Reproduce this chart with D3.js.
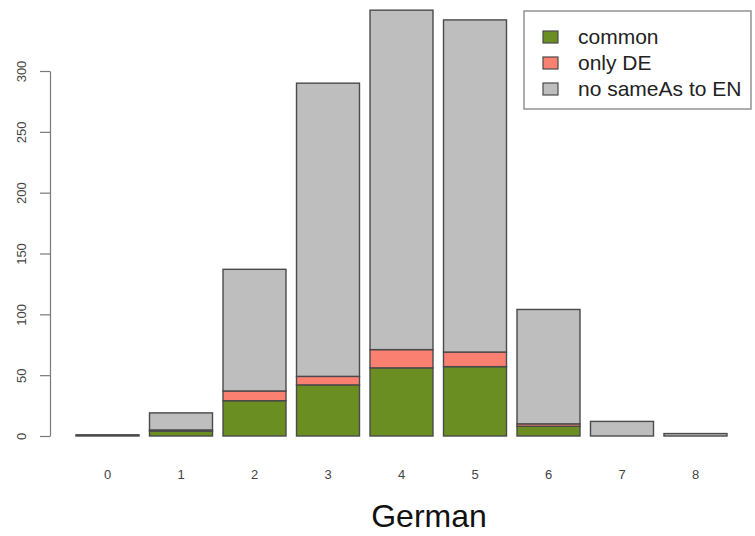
<!DOCTYPE html>
<html>
<head>
<meta charset="utf-8">
<script src="https://cdn.jsdelivr.net/npm/d3@7"></script>
<style>
  html, body { margin: 0; padding: 0; background: #fff; }
  svg { display: block; font-family: "Liberation Sans", Arial, sans-serif; }
</style>
</head>
<body>
<svg id="chart" width="755" height="536"></svg>
<script>
// Number of sameAs links per German entity, split by category
const categories = ["0", "1", "2", "3", "4", "5", "6", "7", "8"];
const common     = [1, 4, 29, 42, 56, 57, 8, 0, 0];
const onlyDE     = [0, 1, 8, 7, 15, 12, 2, 0, 0];
const noSameAs   = [0, 14, 100, 241, 279, 273, 94, 12, 2];
const seriesNames  = ["common", "only DE", "no sameAs to EN"];
const seriesColors = ["#6b8e23", "#fa8072", "#bebebe"];
const yTicks = [0, 50, 100, 150, 200, 250, 300];
const xTitle = "German";

const svg = d3.select("#chart");

const x = d3.scaleBand()
  .domain(categories)
  .range([70.75, 732.25])
  .paddingInner(0.143)
  .paddingOuter(0.0715);

const y = d3.scaleLinear().domain([0, 300]).range([436, 71]);

// stacked rows built from the series arrays
const rows = categories.map((c, i) => ({
  cat: c,
  common: common[i],
  "only DE": onlyDE[i],
  "no sameAs to EN": noSameAs[i]
}));
const stack = d3.stack().keys(seriesNames)(rows);

svg.append("g").selectAll("g")
  .data(stack)
  .join("g")
  .attr("fill", (d, i) => seriesColors[i])
  .selectAll("rect")
  .data(d => d.filter(s => s[1] - s[0] > 0))
  .join("rect")
  .attr("x", d => x(d.data.cat))
  .attr("width", x.bandwidth())
  .attr("y", d => y(d[1]))
  .attr("height", d => y(d[0]) - y(d[1]))
  .attr("stroke", "#4a4a4a")
  .attr("stroke-width", 1.4);

// y axis, R style: vertical labels, line spanning the tick range
const yAxis = svg.append("g")
  .attr("transform", "translate(50,0)")
  .call(d3.axisLeft(y).tickValues(yTicks).tickSize(10).tickPadding(0).tickSizeOuter(0));
yAxis.select(".domain").attr("stroke", "#7a7a7a").attr("stroke-width", 1.2);
yAxis.selectAll(".tick line").attr("stroke", "#7a7a7a").attr("stroke-width", 1.2);
yAxis.selectAll(".tick text")
  .attr("x", 0).attr("y", 0).attr("dy", 0)
  .attr("text-anchor", "middle")
  .attr("transform", "translate(-24,0) rotate(-90)")
  .attr("fill", "#444")
  .style("font-size", "13px")
  .style("font-family", "'Liberation Sans', Arial, sans-serif");

// x category labels
svg.append("g").selectAll("text")
  .data(categories)
  .join("text")
  .attr("x", d => x(d) + x.bandwidth() / 2)
  .attr("y", 479)
  .attr("text-anchor", "middle")
  .attr("fill", "#444")
  .style("font-size", "13px")
  .text(d => d);

// x title
svg.append("text")
  .attr("x", 429)
  .attr("y", 527)
  .attr("text-anchor", "middle")
  .attr("fill", "#111")
  .style("font-size", "32px")
  .text(xTitle);

// legend
const legend = svg.append("g");
legend.append("rect")
  .attr("x", 524).attr("y", 11)
  .attr("width", 227).attr("height", 98)
  .attr("fill", "#fff")
  .attr("stroke", "#8a8a8a")
  .attr("stroke-width", 1.4);
const items = legend.selectAll("g.item")
  .data(seriesNames)
  .join("g")
  .attr("class", "item")
  .attr("transform", (d, i) => `translate(0,${37 + i * 26})`);
items.append("rect")
  .attr("x", 543).attr("y", -6)
  .attr("width", 15).attr("height", 12)
  .attr("fill", (d, i) => seriesColors[i])
  .attr("stroke", "#4a4a4a")
  .attr("stroke-width", 1.2);
items.append("text")
  .attr("x", 578).attr("y", 7)
  .attr("fill", "#222")
  .style("font-size", "21px")
  .text(d => d);
</script>
</body>
</html>
